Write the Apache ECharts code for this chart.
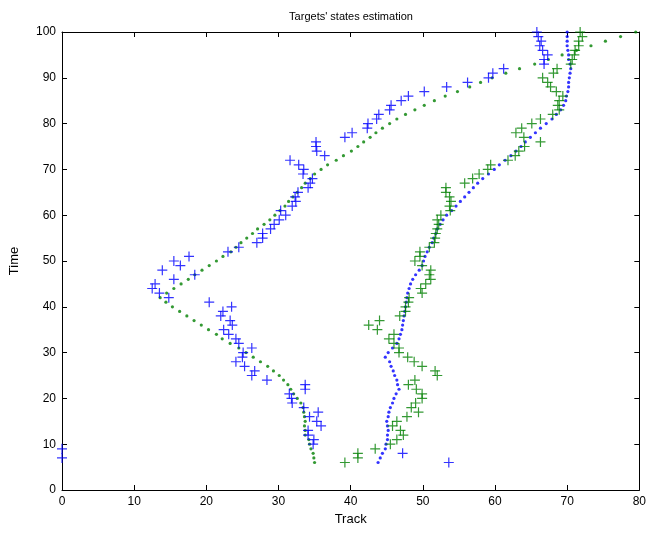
<!DOCTYPE html>
<html><head><meta charset="utf-8">
<script src="https://cdn.jsdelivr.net/npm/echarts@6/dist/echarts.min.js"></script>
<style>html,body{margin:0;padding:0;background:#fff}#c{width:649px;height:536px}</style>
</head><body><div id="c"></div>
<script>
// Estimated track times (shared by both targets)
const trackTimes = [6,7,8,9,10,11,12,13,14,15,16,17,18,19,20,21,22,23,24,25,26,27,28,29,30,31,32,33,34,35,36,37,38,39,40,41,42,43,44,45,46,47,48,49,50,51,52,53,54,55,56,57,58,59,60,61,62,63,64,65,66,67,68,69,70,71,72,73,74,75,76,77,78,79,80,81,82,83,84,85,86,87,88,89,90,91,92,93,94,95,96,97,98,99,100];
// Target 1 estimated track (green dots)
const greenTrack = [35.0,34.9,34.8,34.5,34.3,34.2,33.7,33.7,33.6,33.7,33.6,33.5,33.4,33.1,32.6,32.1,31.7,31.3,30.7,30.1,29.3,28.5,27.5,26.5,25.5,24.5,23.3,22.2,21.4,20.3,19.3,18.3,17.3,16.3,15.3,14.4,13.6,14.5,15.5,16.5,17.5,18.4,19.4,20.4,21.4,22.3,23.4,24.1,24.8,25.6,26.4,27.1,28.0,28.8,29.5,30.2,30.9,31.4,32.0,32.6,33.2,33.7,34.4,35.0,35.9,36.8,38.0,39.0,40.1,41.0,41.8,42.7,43.5,44.4,45.4,46.4,47.6,48.9,50.2,51.6,53.1,54.8,56.5,58.0,59.6,61.5,63.4,65.5,67.4,69.3,71.3,73.3,75.3,77.4,79.5];
// Target 2 estimated track (blue dots)
const blueTrack = [43.8,44.1,44.4,44.8,44.9,45.1,45.1,45.2,45.1,45.0,45.2,45.3,45.5,45.8,46.0,46.3,46.7,46.5,46.4,46.1,45.9,45.6,45.4,44.8,45.2,45.8,46.4,46.7,46.9,47.1,47.2,47.3,47.4,47.5,47.6,47.7,47.8,47.9,48.1,48.3,48.6,49.0,49.5,49.9,50.1,50.3,50.6,50.9,51.3,51.5,51.8,52.0,52.4,52.8,53.3,54.0,54.6,55.2,55.8,56.4,57.0,57.6,58.3,59.1,59.9,60.6,61.4,62.2,62.9,63.6,64.2,64.9,65.6,66.3,67.1,67.9,68.5,69.1,69.5,69.8,69.9,70.1,70.2,70.2,70.3,70.4,70.5,70.4,70.2,70.2,70.1,70.0,70.0,70.0,70.0];

// Blue '+' measurements
const blueMeasTimes = [7,9,10,11,12,13,14,15,16,17,18,19,20,21,22,23,24,25,26,27,28,29,30,31,32,33,34,35,36,37,38,39,40,41,42,43,44,45,46,47,48,49,50,51,52,53,54,55,56,57,58,59,60,61,62,63,64,65,66,67,68,69,70,71,72,73,74,75,76,77,78,79,80,81,82,83,84,85,86,87,88,89,90,91,92,93,94,95,96,97,98,99,100,8,6];
const blueMeasTrack = [0,0,
 34.8,34.9,34.1,34.1,35.9,35.3,34.3,35.5,33.5,31.9,
 31.8,31.5,33.7,33.7,28.4,26.3,26.7,25.3,24.1,25.0,
 25.1,26.3,24.5,24.1,23.1,22.4,23.6,23.3,22.0,22.3,
 23.5,20.4,14.8,13.5,12.5,12.9,15.5,18.4,13.9,16.4,
 15.5,17.6,23.0,24.5,27.0,27.8,27.8,28.9,29.4,30.1,
 31.0,30.3,31.9,32.4,32.3,32.7,34.1,34.4,34.7,33.4,
 33.5,32.8,31.6,36.4,35.3,35.2,35.2,39.2,40.2,42.3,
 42.4,43.6,43.9,45.4,45.6,47.0,48.0,50.2,53.3,56.2,
 59.1,59.7,61.2,66.8,66.8,67.3,66.6,66.2,66.4,66.0,
 65.8,47.2,53.6];

// Green '+' measurements
const greenMeasTimes = [6,7,8,9,10,11,12,13,14,15,16,17,18,19,20,21,22,23,24,25,26,27,28,29,30,31,32,33,34,35,36,37,38,39,40,41,42,43,44,45,46,47,48,49,50,51,52,53,54,55,56,57,58,59,60,61,62,63,64,65,66,67,68,69,70,71,72,73,74,75,76,77,78,79,80,81,82,83,84,85,86,87,88,89,90,91,92,93,94,95,96,97,98,99,100];
const greenMeasTrack = [39.2,41.0,41.0,43.4,
 45.5,46.4,47.3,46.9,45.8,46.4,47.8,49.4,48.4,49.0,
 49.9,49.9,49.1,48.0,48.9,52.0,51.7,49.9,48.8,47.9,
 46.7,46.7,46.0,45.3,46.0,43.7,42.5,44.0,46.8,47.6,
 47.6,48.0,48.1,49.9,49.7,50.4,51.1,50.9,51.1,49.9,
 48.9,49.6,49.6,50.9,51.6,51.7,51.8,52.0,52.2,52.0,
 52.5,53.8,53.7,53.9,53.7,53.2,53.2,55.8,56.9,57.8,
 59.0,59.4,61.8,62.8,63.3,64.1,66.3,64.0,62.9,63.7,
 65.1,66.3,68.0,68.9,68.7,68.9,69.4,68.5,67.7,67.3,
 66.6,68.1,68.6,70.5,70.7,71.0,71.1,71.6,71.6,72.1,
 71.8];

const xTicks = [0,10,20,30,40,50,60,70,80];
const yTicks = [0,10,20,30,40,50,60,70,80,90,100];

function pairs(xs, ts){ return xs.map((x,i)=>[x, ts[i]]); }

const FONT = 'Liberation Sans, Arial, Helvetica, sans-serif';
const PLUS = 'path://M4.4,0h1.2v4.4h4.4v1.2h-4.4v4.4h-1.2v-4.4h-4.4v-1.2h4.4z';

function xAx(pos, labels){
  return {type:'value', min:xTicks[0], max:xTicks[xTicks.length-1], interval:10, position:pos,
    axisLine:{show:true,onZero:false,lineStyle:{color:'#000',width:1}},
    axisTick:{show:true,inside:true,length:5,lineStyle:{color:'#000'}},
    axisLabel:{show:labels,color:'#000',fontSize:12,margin:6,fontFamily:FONT},
    splitLine:{show:false}};
}
function yAx(pos, labels){
  return {type:'value', min:yTicks[0], max:yTicks[yTicks.length-1], interval:10, position:pos,
    axisLine:{show:true,onZero:false,lineStyle:{color:'#000',width:1}},
    axisTick:{show:true,inside:true,length:5,lineStyle:{color:'#000'}},
    axisLabel:{show:labels,color:'#000',fontSize:12,margin:6,fontFamily:FONT},
    splitLine:{show:false}};
}
const xb = xAx('bottom', true);
xb.name = 'Track'; xb.nameLocation='middle'; xb.nameGap=21;
xb.nameTextStyle = {color:'#000',fontSize:13,fontFamily:FONT};
const yl = yAx('left', true);
yl.name = 'Time'; yl.nameLocation='middle'; yl.nameGap=41;
yl.nameTextStyle = {color:'#000',fontSize:13,fontFamily:FONT};

const chart = echarts.init(document.getElementById('c'), null, {renderer:'canvas'});
chart.setOption({
  animation:false,
  backgroundColor:'#fff',
  title:{text:"Targets' states estimation", left:351, top:11, padding:0, textAlign:'center',
    textStyle:{color:'#000',fontSize:11,fontWeight:'normal',fontFamily:FONT}},
  grid:{left:61, right:7, top:32, bottom:46},
  xAxis:[xb, xAx('top', false)],
  yAxis:[yl, yAx('right', false)],
  series:[
    {type:'scatter', data:pairs(greenTrack, trackTimes), symbol:'circle', symbolSize:3.2,
      itemStyle:{color:'#008000'}, silent:true},
    {type:'scatter', data:pairs(blueTrack, trackTimes), symbol:'circle', symbolSize:3.2,
      itemStyle:{color:'#0000ff'}, silent:true},
    {type:'scatter', data:pairs(blueMeasTrack, blueMeasTimes), symbol:PLUS, symbolSize:10,
      itemStyle:{color:'#0000ff'}, silent:true, clip:false},
    {type:'scatter', data:pairs(greenMeasTrack, greenMeasTimes), symbol:PLUS, symbolSize:10,
      itemStyle:{color:'#008000'}, silent:true, clip:false}
  ]
});
</script></body></html>
